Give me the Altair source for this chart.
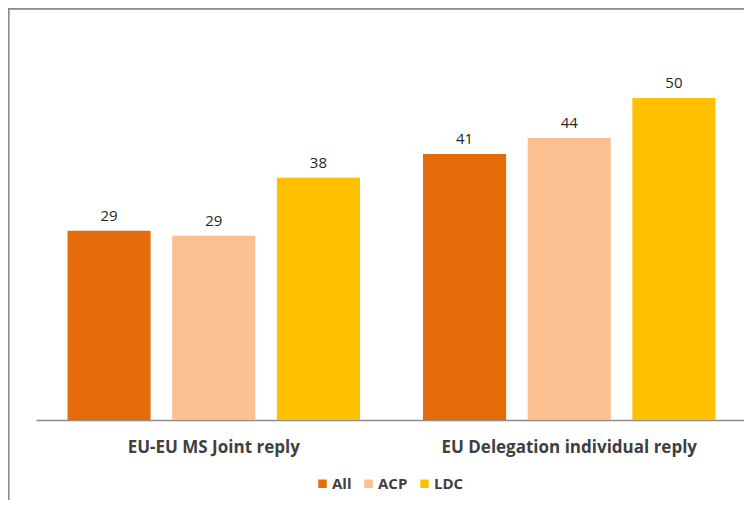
import altair as alt
import pandas as pd

groups = ["EU-EU MS Joint reply", "EU Delegation individual reply"]
series = ["All", "ACP", "LDC"]
colors = ["#E46C0A", "#FAC090", "#FFC000"]
all_vals = [29.4, 41.3]
acp_vals = [28.6, 43.8]
ldc_vals = [37.6, 50.0]

rows = []
for s, vals in zip(series, [all_vals, acp_vals, ldc_vals]):
    for g, v in zip(groups, vals):
        rows.append({"group": g, "series": s, "value": v, "label": str(int(round(v)))})
df = pd.DataFrame(rows)

FONT = "Open Sans"

base = alt.Chart(df).encode(
    x=alt.X("group:N", sort=groups, title=None,
            scale=alt.Scale(paddingInner=0, paddingOuter=0),
            axis=alt.Axis(labelAngle=0, ticks=False, tickSize=0, domain=True,
                          domainColor="#8C8C8C", domainWidth=1.3,
                          labelFont=FONT, labelFontSize=17, labelFontWeight="bold",
                          labelColor="#404040", labelPadding=32,
                          labelBaseline="alphabetic", grid=False, labelLimit=400)),
    xOffset=alt.XOffset("series:N", sort=series,
                        scale=alt.Scale(paddingInner=0.206, paddingOuter=0.301)),
    y=alt.Y("value:Q", scale=alt.Scale(domain=[0, 50], nice=False, zero=True),
            axis=None),
)

bars = base.mark_bar().encode(
    color=alt.Color("series:N", sort=series,
                    scale=alt.Scale(domain=series, range=colors),
                    legend=alt.Legend(title=None, orient="none", direction="horizontal",
                                      legendX=279, legendY=378,
                                      symbolType="square", symbolSize=72,
                                      symbolStrokeWidth=0, labelFont=FONT,
                                      labelFontSize=15, labelFontWeight="bold",
                                      labelColor="#404040", labelOffset=2,
                                      columnPadding=9))
)

labels = base.mark_text(font=FONT, fontSize=15, color="#262626",
                        baseline="alphabetic", dy=-10).encode(text="label:N")

border_top = alt.Chart(df).mark_rule(color="#8C8C8C", strokeWidth=1.3).encode(
    x=alt.value(-27.5), x2=alt.value(720), y=alt.value(-89.5))
border_left = alt.Chart(df).mark_rule(color="#8C8C8C", strokeWidth=1.3).encode(
    x=alt.value(-27.5), y=alt.value(-89.5), y2=alt.value(420))

chart = alt.layer(bars, labels, border_top, border_left).properties(
    width=711, height=322,
    padding={"left": 28, "top": 90, "right": -3, "bottom": 80},
    autosize=alt.AutoSizeParams(type="none"),
).configure_view(stroke=None)

chart.save("out.html", embed_options={"renderer": "svg", "actions": False})
